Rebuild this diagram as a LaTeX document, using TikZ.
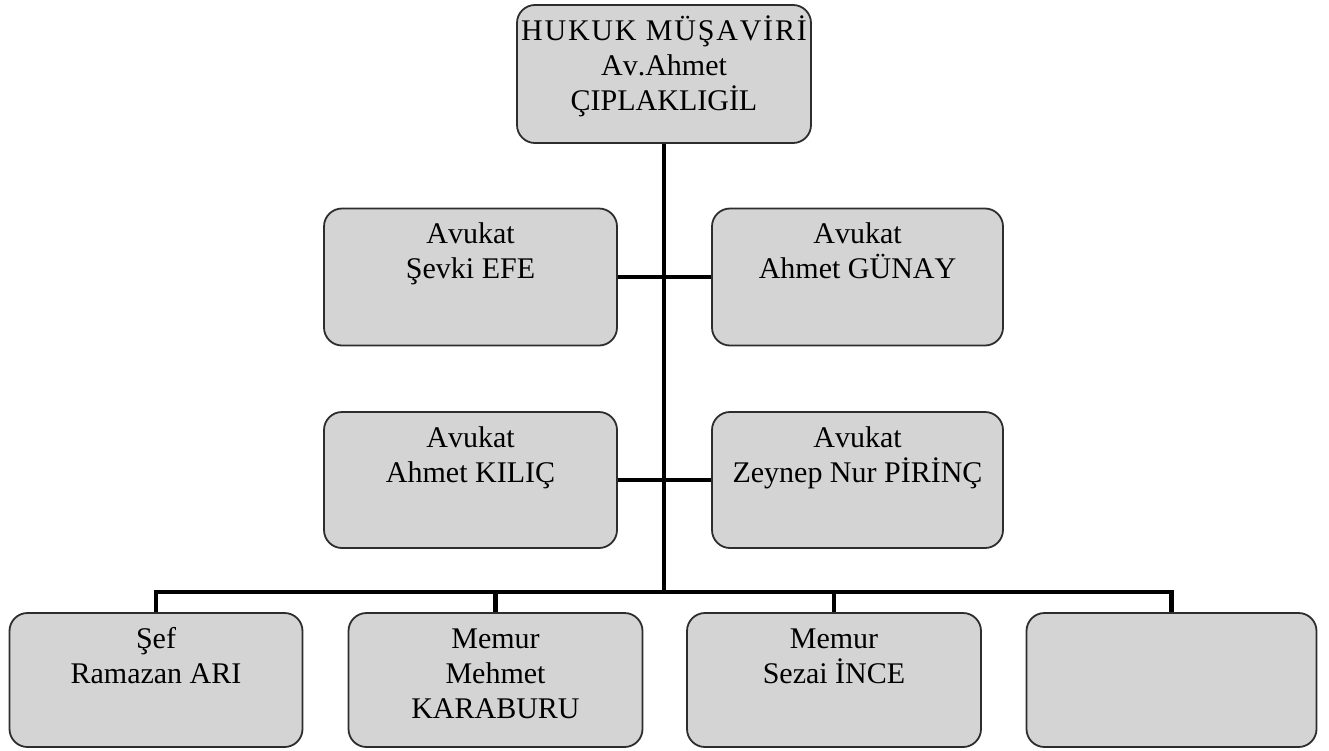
\documentclass[tikz,border=0pt]{standalone}
\usepackage{fontspec}
\setmainfont[Kerning=Off]{Liberation Serif}
\newfontfamily\widefont[Kerning=Off,LetterSpace=6]{Liberation Serif}
\definecolor{boxfill}{RGB}{212,212,212}
\definecolor{boxline}{RGB}{45,45,45}
\newcommand{\boxtext}[3]{\parbox[c][#2pt][t]{#1pt}{\centering\fontsize{30}{35}\selectfont\rule{0pt}{35pt}#3}}
\begin{document}
\begin{tikzpicture}[x=1pt,y=-1pt,
  orgbox/.style={draw=boxline,line width=1.8pt,fill=boxfill,rounded corners=18pt,inner sep=0pt,text=black},
  link/.style={line width=4.8pt,black,line join=miter}]
\useasboundingbox (0,0) rectangle (1329,750);
% boxes
\node[orgbox] (top) at (664,74) {\boxtext{294}{138}{{\widefont HUKUK MÜŞAVİRİ}\\Av.Ahmet\\ÇIPLAKLIGİL}};
\node[orgbox] (r2l) at (470.5,277) {\boxtext{293}{137}{Avukat\\Şevki EFE}};
\node[orgbox] (r2r) at (857.5,277) {\boxtext{291}{137}{Avukat\\Ahmet GÜNAY}};
\node[orgbox] (r3l) at (470.5,480) {\boxtext{293}{136}{Avukat\\Ahmet KILIÇ}};
\node[orgbox] (r3r) at (857.5,480) {\boxtext{291}{136}{Avukat\\Zeynep Nur PİRİNÇ}};
\node[orgbox] (b1) at (156,680) {\boxtext{293}{134}{Şef\\Ramazan ARI}};
\node[orgbox] (b2) at (495.5,680) {\boxtext{294}{134}{Memur\\Mehmet\\KARABURU}};
\node[orgbox] (b3) at (834,680) {\boxtext{294}{134}{Memur\\Sezai İNCE}};
\node[orgbox] (b4) at (1171.5,680) {\boxtext{290}{134}{}};
% connectors
\coordinate (bus) at (664,592);
\draw[link] (top.south) -- (bus);
\draw[link] (r2l.east) -- (r2r.west);
\draw[link] (r3l.east) -- (r3r.west);
\draw[link] (b1.north) |- (bus) -| (b4.north);
\draw[link] (b2.north) -- (b2.north |- bus);
\draw[link] (b3.north) -- (b3.north |- bus);
\end{tikzpicture}
\end{document}
